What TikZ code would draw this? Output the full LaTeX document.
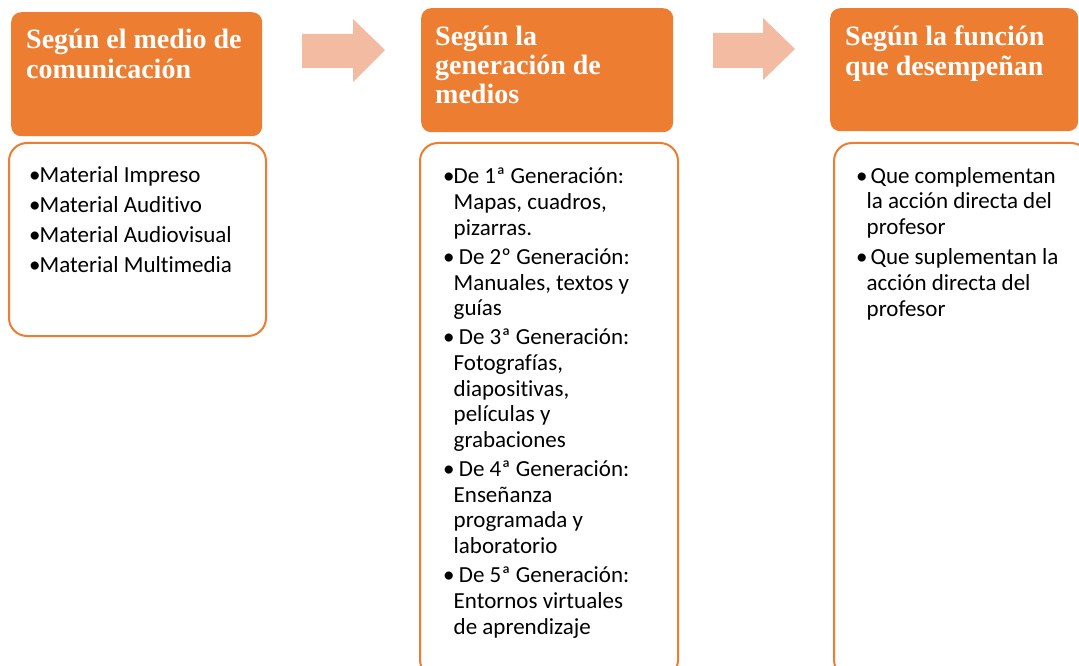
\documentclass[tikz,border=0pt]{standalone}
\usepackage{fontspec}
\setmainfont{Carlito}[Ligatures=NoCommon]
\newfontfamily\hdfont{Liberation Serif}
\definecolor{orng}{HTML}{ED7D31}
\definecolor{arrowc}{HTML}{F4BBA3}
\newcommand\bul{\makebox[10.5pt][l]{•}}
\newcommand\ind{\hspace*{10.5pt}}
\begin{document}
\begin{tikzpicture}[x=1pt,y=-1pt,
  header/.style={fill=orng, rounded corners=10pt, anchor=north west, inner sep=0pt},
  body/.style={draw=orng, line width=2pt, fill=white, rounded corners=18pt, anchor=north west, inner sep=0pt},
  htext/.style={anchor=base west, inner sep=0pt, align=left, text=white},
  btext/.style={anchor=base west, inner sep=0pt, align=left, text=black},
  blockarrow/.style={fill=arrowc}]
\clip (0,0) rectangle (1079,666);
\fill[white] (0,0) rectangle (1079,666);
% headers
\node[header, minimum width=251pt, minimum height=124pt] (h1) at (11,12) {};
\node[header, minimum width=252pt, minimum height=124pt] (h2) at (421,8) {};
\node[header, minimum width=248pt, minimum height=123pt] (h3) at (830,8) {};
% bodies
\node[body, minimum width=257pt, minimum height=193pt] (b1) at (8,142) {};
\node[body, minimum width=258pt, minimum height=535pt] (b2) at (419,142) {};
\node[body, minimum width=255pt, minimum height=535pt] (b3) at (833,142) {};
% arrows
\fill[blockarrow] (302,34) -- (353,34) -- (353,19) -- (385,50) -- (353,82) -- (353,68) -- (302,68) -- cycle;
\fill[blockarrow] (713,33) -- (763,33) -- (763,18) -- (795,49) -- (763,80) -- (763,68) -- (713,68) -- cycle;
% header texts (anchored at the baseline of the last line)
\node[htext, font=\hdfont\bfseries\fontsize{28}{30}\selectfont] (t1) at (26,79) {Según el medio de\\comunicación};
\node[htext, font=\hdfont\bfseries\fontsize{28}{29}\selectfont] (t2) at (435,104) {Según la\\generación de\\medios};
\node[htext, font=\hdfont\bfseries\fontsize{28}{30}\selectfont] (t3) at (845,76) {Según la función\\que desempeñan};
% body texts (anchored at the baseline of the last line)
\node[btext, font=\fontsize{23}{29.7}\selectfont] (l1) at (29,272) {\bul Material Impreso\\\bul Material Auditivo\\\bul Material Audiovisual\\\bul Material Multimedia};
\node[btext, font=\fontsize{23}{25.7}\selectfont] (l2) at (443,634) {\bul De 1ª Generación:\\\ind Mapas, cuadros,\\\ind pizarras.\\[3.3pt]
\bul\ De 2º Generación:\\\ind Manuales, textos y\\\ind guías\\[3.3pt]
\bul\ De 3ª Generación:\\\ind Fotografías,\\\ind diapositivas,\\\ind películas y\\\ind grabaciones\\[3.3pt]
\bul\ De 4ª Generación:\\\ind Enseñanza\\\ind programada y\\\ind laboratorio\\[3.3pt]
\bul\ De 5ª Generación:\\\ind Entornos virtuales\\\ind de aprendizaje};
\node[btext, font=\fontsize{23}{25.7}\selectfont] (l3) at (856,316) {\bul\,Que complementan\\\ind la acción directa del\\\ind profesor\\[4.3pt]
\bul\,Que suplementan la\\\ind acción directa del\\\ind profesor};
\end{tikzpicture}
\end{document}
